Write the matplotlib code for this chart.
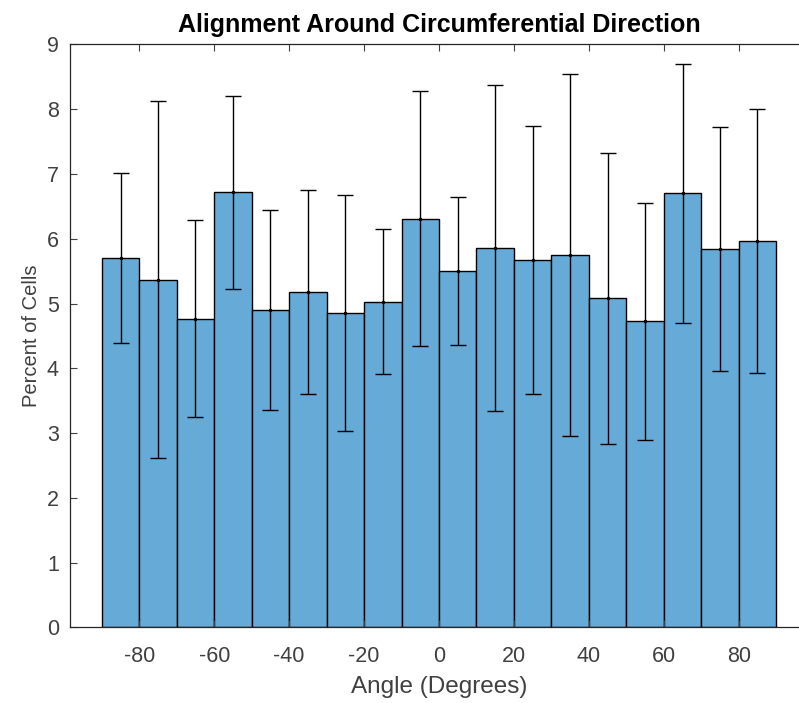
import matplotlib

matplotlib.use("Agg")
import matplotlib.pyplot as plt

# bin centres (degrees) and per-bin mean / error
angles = [-85, -75, -65, -55, -45, -35, -25, -15, -5, 5, 15, 25, 35, 45, 55, 65, 75, 85]
percent = [5.70, 5.37, 4.77, 6.72, 4.90, 5.18, 4.85, 5.03, 6.31,
           5.50, 5.86, 5.67, 5.75, 5.08, 4.73, 6.70, 5.84, 5.97]
errors = [1.31, 2.76, 1.52, 1.49, 1.54, 1.57, 1.82, 1.12, 1.97,
          1.14, 2.52, 2.07, 2.79, 2.25, 1.83, 2.00, 1.88, 2.04]
yticks = list(range(0, 10))
xticks = [-80, -60, -40, -20, 0, 20, 40, 60, 80]

plt.rcParams["font.family"] = ["Liberation Sans", "DejaVu Sans"]
plt.rcParams["axes.unicode_minus"] = False
text_color = "#262626"

fig = plt.figure(figsize=(7.99, 7.03), dpi=100)
# axes runs a little past the right edge, like the cropped original
ax = fig.add_axes([0.0876, 0.1074, 0.9237, 0.8293])

ax.bar(angles, percent, width=10, color="#66aad7", edgecolor="black", linewidth=1.0)
ax.errorbar(angles, percent, yerr=errors, fmt=".", color="black", markersize=3,
            elinewidth=1.0, capsize=5.8, capthick=1.0)

ax.set_xlim(-98.5, 98.5)
ax.set_ylim(0, 9)
ax.set_xticks(xticks)
ax.set_yticks(yticks)
ax.tick_params(direction="in", length=5, width=0.8, colors="#404040",
               labelsize=15.5, top=True, right=False)
ax.tick_params(axis="x", pad=13)
ax.tick_params(axis="y", pad=8)
for side in ax.spines.values():
    side.set_color(text_color)
    side.set_linewidth(0.9)
ax.spines["right"].set_visible(False)

ax.set_title("Alignment Around Circumferential Direction", fontsize=18,
             fontweight="bold", color="black", pad=9)
ax.set_xlabel("Angle (Degrees)", fontsize=17.5, color="#404040", labelpad=7)
ax.set_ylabel("Percent of Cells", fontsize=14.5, color="#404040", labelpad=4)

fig.savefig("out.png", dpi=100, facecolor="white")
